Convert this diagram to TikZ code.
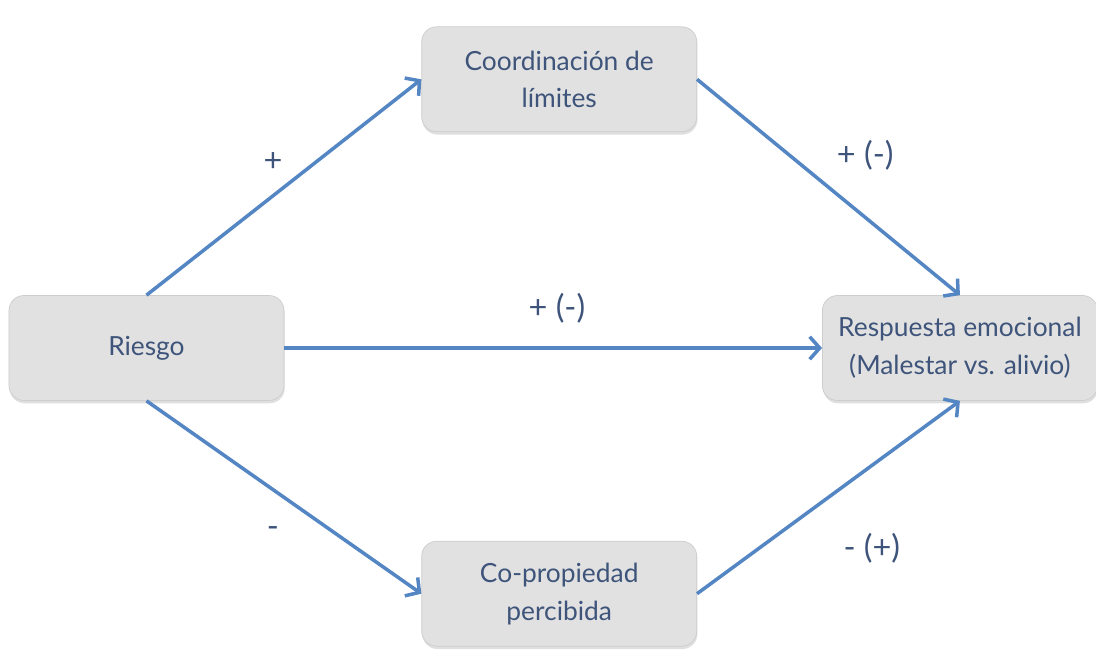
\documentclass[tikz,border=0pt]{standalone}
\usepackage{fontspec}
\setmainfont{Lato}
\usetikzlibrary{positioning, arrows.meta, shadows}
\definecolor{boxgray}{RGB}{225,225,225}
\definecolor{boxedge}{RGB}{205,205,205}
\definecolor{textblue}{RGB}{62,84,122}
\definecolor{lineblue}{RGB}{84,134,196}
\begin{document}
\begin{tikzpicture}[font=\fontsize{15}{21.5}\selectfont, text=textblue]
    \tikzstyle{factor} = [draw=boxedge, fill=boxgray, rectangle, rounded corners=3mm, minimum width=5.5cm, minimum height=2.1cm, align=center, drop shadow={shadow xshift=0.4pt, shadow yshift=-1.6pt, opacity=0.25}]
    \tikzstyle{flow} = [draw=lineblue, line width=2pt, -{Straight Barb[length=2mm, width=4.5mm]}]
    \tikzstyle{sign} = [font=\fontsize{18.5}{22}\selectfont]

    \useasboundingbox (-2.93,-6.22) rectangle (18.99,6.96);

    \node[factor] (riesgo) {Riesgo};
    \node[factor, above right=3.26cm and 2.74cm of riesgo] (coord) {Coordinación de\\límites};
    \node[factor, below right=3.26cm and 2.5cm of coord] (respuesta) {Respuesta emocional\\(Malestar vs. alivio)};
    \node[factor, below right=2.8cm and 2.74cm of riesgo] (copro) {Co-propiedad\\percibida};

    \draw[flow] (riesgo.north) -- node[sign, pos=0.46, yshift=0.67cm] {+} (coord.west);
    \draw[flow] (coord.east) -- node[sign, pos=0.64, yshift=1.24cm] {+ (-)} (respuesta.north);
    \draw[flow] (riesgo.east) -- node[sign, pos=0.507, yshift=0.8cm] {+ (-)} (respuesta.west);
    \draw[flow] (riesgo.south) -- node[sign, pos=0.46, yshift=-0.84cm] {-} (copro.west);
    \draw[flow] (copro.east) -- node[sign, pos=0.665, yshift=-1.66cm] {- (+)} (respuesta.south);
\end{tikzpicture}
\end{document}
